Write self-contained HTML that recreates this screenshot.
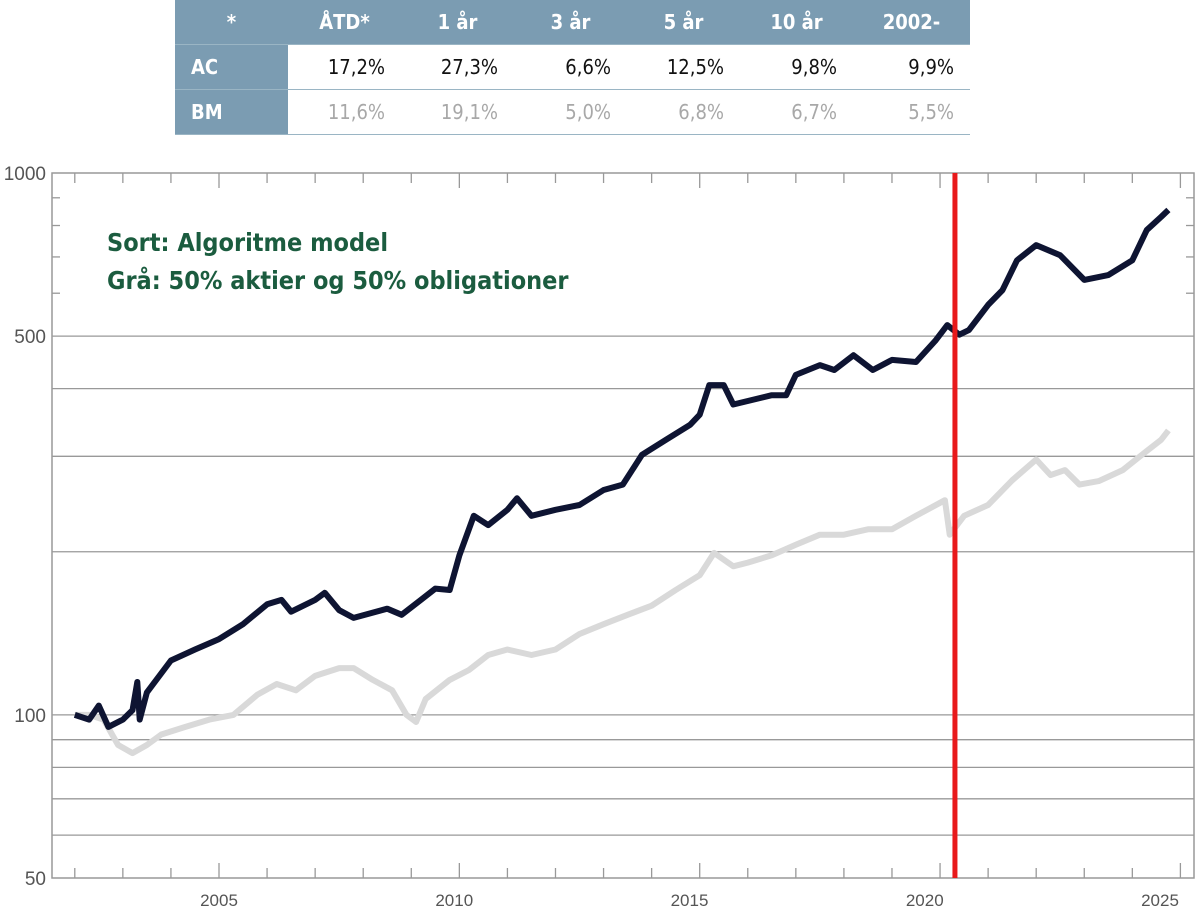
<!DOCTYPE html>
<html><head><meta charset="utf-8"><style>
body{margin:0;background:#fff;width:1200px;height:918px;overflow:hidden;font-family:"Liberation Sans",sans-serif}
#tbl{position:absolute;left:175px;top:0;width:795px;height:135px;border-collapse:collapse;table-layout:fixed;font-family:"DejaVu Sans Condensed","Liberation Sans",sans-serif;font-size:20px}
#tbl td,#tbl th{height:44px;padding:0 16px 0 0;text-align:right;border-bottom:1px solid #9ab5c4}
#tbl th{background:#7b9cb2;color:#fff;font-weight:bold;text-align:center;padding:0}
#tbl tr.ac td{color:#111}#tbl tr.bm td{color:#a8a8a8}
#tbl tr td.rh{background:#7b9cb2;color:#fff;font-weight:bold;text-align:left;padding-left:16px}
</style></head><body>
<table id="tbl">
<colgroup><col style="width:113px"><col style="width:113px"><col style="width:113px"><col style="width:113px"><col style="width:113px"><col style="width:113px"><col style="width:117px"></colgroup>
<tr><th>*</th><th>ÅTD*</th><th>1 år</th><th>3 år</th><th>5 år</th><th>10 år</th><th>2002-</th></tr>
<tr class="ac"><td class="rh">AC</td><td>17,2%</td><td>27,3%</td><td>6,6%</td><td>12,5%</td><td>9,8%</td><td>9,9%</td></tr>
<tr class="bm"><td class="rh">BM</td><td>11,6%</td><td>19,1%</td><td>5,0%</td><td>6,8%</td><td>6,7%</td><td>5,5%</td></tr>
</table>
<svg id="chart" width="1200" height="918" style="position:absolute;left:0;top:0"></svg>
<script>
const blackYears=[2002.0,2002.3,2002.5,2002.7,2003.0,2003.2,2003.3,2003.35,2003.5,2004,2004.5,2005,2005.5,2006,2006.3,2006.5,2007,2007.2,2007.5,2007.8,2008.5,2008.8,2009.2,2009.5,2009.8,2010,2010.3,2010.6,2011,2011.2,2011.5,2012,2012.5,2013,2013.4,2013.8,2014.3,2014.8,2015,2015.2,2015.5,2015.7,2016.5,2016.8,2017,2017.5,2017.8,2018.2,2018.6,2019,2019.5,2019.9,2020.15,2020.4,2020.6,2021,2021.3,2021.6,2022,2022.5,2023,2023.5,2024,2024.3,2024.6,2024.75];
const blackValues=[100,98,104,95,98,102,115,98,110,126,132,138,147,160,163,155,163,168,156,151,157,153,163,171,170,197,233,224,239,251,233,239,244,260,266,302,322,343,358,406,406,374,389,389,424,442,433,461,433,452,448,490,524,503,513,571,608,690,736,705,635,648,690,785,830,855];
const grayYears=[2002.0,2002.3,2002.6,2002.9,2003.2,2003.5,2003.8,2004.3,2004.8,2005.3,2005.8,2006.2,2006.6,2007,2007.5,2007.8,2008.2,2008.6,2008.9,2009.1,2009.3,2009.8,2010.2,2010.6,2011,2011.5,2012,2012.5,2013,2013.5,2014,2014.5,2015,2015.3,2015.7,2016,2016.5,2017,2017.5,2018,2018.5,2019,2019.5,2020.1,2020.2,2020.5,2021,2021.5,2022,2022.3,2022.6,2022.9,2023.3,2023.8,2024.2,2024.6,2024.75];
const grayValues=[100,100,98,88,85,88,92,95,98,100,109,114,111,118,122,122,116,111,100,97,107,116,121,129,132,129,132,141,147,153,159,170,181,199,188,191,197,206,215,215,220,220,233,249,215,233,244,271,296,277,283,266,270,283,302,322,335];
const yTicks=[50,100,500,1000];
const yGrid=[60,70,80,90,100,200,300,400,500];
const yMinor=[600,700,800,900];
const xTicks=[2005,2010,2015,2020,2025];
const eventYear=2020.31;

const L=52,R=1194,T=173,B=878,ns="http://www.w3.org/2000/svg";
const xs=y=>219+(y-2005)*48.07;
const xl=y=>219+(y-2005)*47.05;
const ys=v=>T+(3-Math.log10(v))*(B-T)/Math.log10(20);
const svg=document.getElementById('chart');
function mk(t,a){const e=document.createElementNS(ns,t);for(const k in a)e.setAttribute(k,a[k]);svg.appendChild(e);return e;}
yGrid.forEach(v=>{const l=mk('line',{x1:L,x2:R,y1:ys(v),y2:ys(v),stroke:'#999','stroke-width':1.3});

});
yMinor.forEach(v=>{[[L,L+8],[R-8,R]].forEach(p=>{const l=mk('line',{x1:p[0],x2:p[1],y1:ys(v),y2:ys(v),stroke:'#999','stroke-width':1.3});

});});
for(let yr=2002;yr<=2025;yr++){const h=yr%5===0?15:10;
[[T,T+h],[B,B-h]].forEach(p=>{const l=mk('line',{x1:xs(yr),x2:xs(yr),y1:p[0],y2:p[1],stroke:'#999','stroke-width':1.3});

});}
const fr=mk('rect',{x:L,y:T,width:R-L,height:B-T,fill:'none',stroke:'#999','stroke-width':1.5});


yTicks.forEach(v=>{const t=mk('text',{x:46,y:ys(v)+7,'text-anchor':'end','font-size':19,fill:'#555'});t.textContent=v;

});
xTicks.forEach(v=>{const t=mk('text',{x:xl(v),y:906,'text-anchor':'middle','font-size':17,fill:'#555'});t.textContent=v;

});
function series(xa,va,col,name){const d=xa.map((x,i)=>(i?'L':'M')+xs(x).toFixed(1)+' '+ys(va[i]).toFixed(1)).join(' ');
const p=mk('path',{d:d,fill:'none',stroke:col,'stroke-width':6,'stroke-linejoin':'round'});

}
series(grayYears,grayValues,'#d9d9d9','benchmark-line');
series(blackYears,blackValues,'#0e1432','algorithm-line');
const rl=mk('line',{x1:xs(eventYear),x2:xs(eventYear),y1:T,y2:B,stroke:'#e8191b','stroke-width':5});


[['Sort: Algoritme model',251],['Grå: 50% aktier og 50% obligationer',289]].forEach(a=>{const t=mk('text',{x:107,y:a[1],'font-size':25,'font-weight':'bold',fill:'#1b5c3f','font-family':'"DejaVu Sans Condensed","Liberation Sans",sans-serif'});t.textContent=a[0];

});
</script>
</body></html>
